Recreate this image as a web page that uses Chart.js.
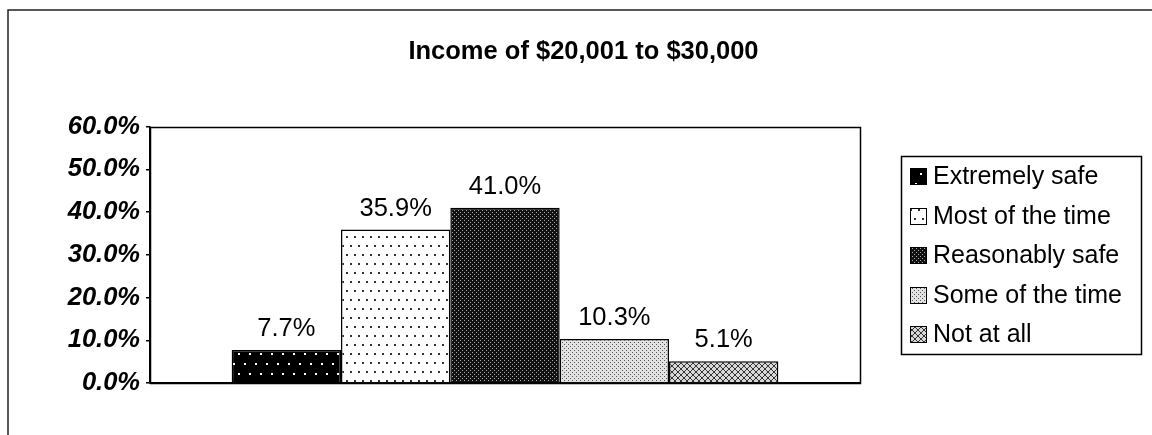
<!DOCTYPE html>
<html>
<head>
<meta charset="utf-8">
<title>Income of $20,001 to $30,000</title>
<script src="https://cdn.jsdelivr.net/npm/chart.js@4.4.1/dist/chart.umd.min.js"></script>
<style>
  html, body { margin: 0; padding: 0; background: #fff; }
  canvas { display: block; }
</style>
</head>
<body>
<canvas id="incomeChart" width="1152" height="435"></canvas>
<script>
const chartTitle = "Income of $20,001 to $30,000";
const categories = [""];
const seriesNames = ["Extremely safe", "Most of the time", "Reasonably safe", "Some of the time", "Not at all"];
const extremelySafe = [7.7];
const mostOfTheTime = [35.9];
const reasonablySafe = [41.0];
const someOfTheTime = [10.3];
const notAtAll = [5.1];
const yTicks = [0, 10, 20, 30, 40, 50, 60];

const FONT = "'Liberation Sans', Arial, sans-serif";

const canvas = document.getElementById("incomeChart");
const ctx = canvas.getContext("2d");

// small tiles to imitate the old black & white fill patterns
function tile(w, h, bg, draw) {
    const c = document.createElement("canvas");
    c.width = w;
    c.height = h;
    const g = c.getContext("2d");
    g.fillStyle = bg;
    g.fillRect(0, 0, w, h);
    draw(g);
    return ctx.createPattern(c, "repeat");
}

const fills = [
    tile(11, 20, "#000", g => {
        g.fillStyle = "#fff";
        g.fillRect(2, 3, 2, 2);
        g.fillRect(7, 13, 2, 2);
    }),
    tile(8, 18, "#fff", g => {
        g.fillStyle = "#333";
        g.fillRect(2, 2, 2, 2);
        g.fillRect(6, 11, 2, 2);
    }),
    tile(4, 4, "#111", g => {
        g.fillStyle = "#aaa";
        g.fillRect(0, 0, 1, 1);
        g.fillRect(2, 2, 1, 1);
    }),
    tile(4, 4, "#e2e2e2", g => {
        g.fillStyle = "#555";
        g.fillRect(0, 0, 1, 1);
        g.fillRect(2, 2, 1, 1);
    }),
    tile(6, 6, "#d8d8d8", g => {
        g.strokeStyle = "#333";
        g.lineWidth = 1;
        g.beginPath();
        g.moveTo(0, 0); g.lineTo(6, 6);
        g.moveTo(6, 0); g.lineTo(0, 6);
        g.stroke();
    })
];

const seriesValues = [extremelySafe, mostOfTheTime, reasonablySafe, someOfTheTime, notAtAll];

const datasets = seriesValues.map((vals, i) => ({
    label: seriesNames[i],
    data: vals,
    backgroundColor: fills[i],
    borderColor: "#000",
    borderWidth: 1.5,
    barPercentage: 1,
    categoryPercentage: 0.77
}));

// outer chart border (only top and left are visible in the scan)
const pageFrame = {
    id: "pageFrame",
    beforeDraw(chart) {
        const c = chart.ctx;
        c.save();
        c.fillStyle = "#fff";
        c.fillRect(0, 0, chart.width, chart.height);
        c.strokeStyle = "#222";
        c.lineWidth = 1.5;
        c.beginPath();
        c.moveTo(8, chart.height);
        c.lineTo(8, 10);
        c.lineTo(chart.width, 10);
        c.stroke();
        c.restore();
    }
};

// plot frame and value labels above bars
const barLabels = {
    id: "barLabels",
    afterDatasetsDraw(chart) {
        const c = chart.ctx;
        const a = chart.chartArea;
        c.save();
        c.strokeStyle = "#000";
        c.lineWidth = 1.5;
        c.strokeRect(Math.round(a.left) + 0.5, Math.round(a.top) + 0.5,
            Math.round(a.right - a.left), Math.round(a.bottom - a.top));

        c.fillStyle = "#000";
        c.font = "25.5px " + FONT;
        c.textAlign = "center";
        c.textBaseline = "alphabetic";
        chart.data.datasets.forEach((ds, i) => {
            const meta = chart.getDatasetMeta(i);
            meta.data.forEach((bar, j) => {
                c.fillText(ds.data[j].toFixed(1) + "%", bar.x, bar.y - 14);
            });
        });
        c.restore();
    }
};

// boxed legend on the right
const boxLegend = {
    id: "boxLegend",
    afterDraw(chart) {
        const c = chart.ctx;
        const a = chart.chartArea;
        const left = a.right + 41;
        const top = a.top + 29;
        const rowH = 39.5;
        c.save();
        c.strokeStyle = "#000";
        c.lineWidth = 1.5;
        c.strokeRect(Math.round(left) + 0.5, Math.round(top) + 0.5, 240, 198);
        c.lineWidth = 1;
        c.font = "25px " + FONT;
        c.textBaseline = "middle";
        c.textAlign = "left";
        chart.data.datasets.forEach((ds, i) => {
            const cy = top + 21 + i * rowH;
            const sx = Math.round(left + 9);
            const sy = Math.round(cy - 8.5);
            c.fillStyle = ds.backgroundColor;
            c.fillRect(sx, sy, 17, 17);
            c.strokeRect(sx + 0.5, sy + 0.5, 16, 16);
            c.fillStyle = "#000";
            c.fillText(ds.label, left + 32, cy + 1);
        });
        c.restore();
    }
};

new Chart(ctx, {
    type: "bar",
    data: {
        labels: categories,
        datasets: datasets
    },
    options: {
        responsive: false,
        animation: false,
        devicePixelRatio: 1,
        layout: {
            padding: { left: 15, right: 0, top: 0, bottom: 52 }
        },
        plugins: {
            legend: { display: false },
            tooltip: { enabled: false },
            title: {
                display: true,
                text: chartTitle,
                color: "#000",
                font: { family: FONT, size: 25.5, weight: "bold" },
                padding: { top: 37, bottom: 59 }
            }
        },
        scales: {
            x: {
                grid: { display: false, drawTicks: false },
                ticks: { display: false },
                border: { display: true, color: "#000", width: 1.5 },
                afterFit(s) { s.height = 0; }
            },
            y: {
                min: 0,
                max: 60,
                afterBuildTicks(s) { s.ticks = yTicks.map(v => ({ value: v })); },
                ticks: {
                    color: "#000",
                    padding: 6,
                    font: { family: FONT, size: 25.5, weight: "bold", style: "italic" },
                    callback: v => Number(v).toFixed(1) + "%"
                },
                grid: { drawOnChartArea: false, drawTicks: true, tickLength: 4, color: "#000", lineWidth: 1.5 },
                border: { display: true, color: "#000", width: 1.5 },
                afterFit(s) { s.width = 135; }
            },
            // empty axis that keeps room for the legend box
            spacer: {
                type: "linear",
                position: "right",
                grid: { display: false, drawTicks: false },
                ticks: { display: false },
                border: { display: false },
                afterFit(s) { s.width = 292; }
            }
        }
    },
    plugins: [pageFrame, barLabels, boxLegend]
});
</script>
</body>
</html>
